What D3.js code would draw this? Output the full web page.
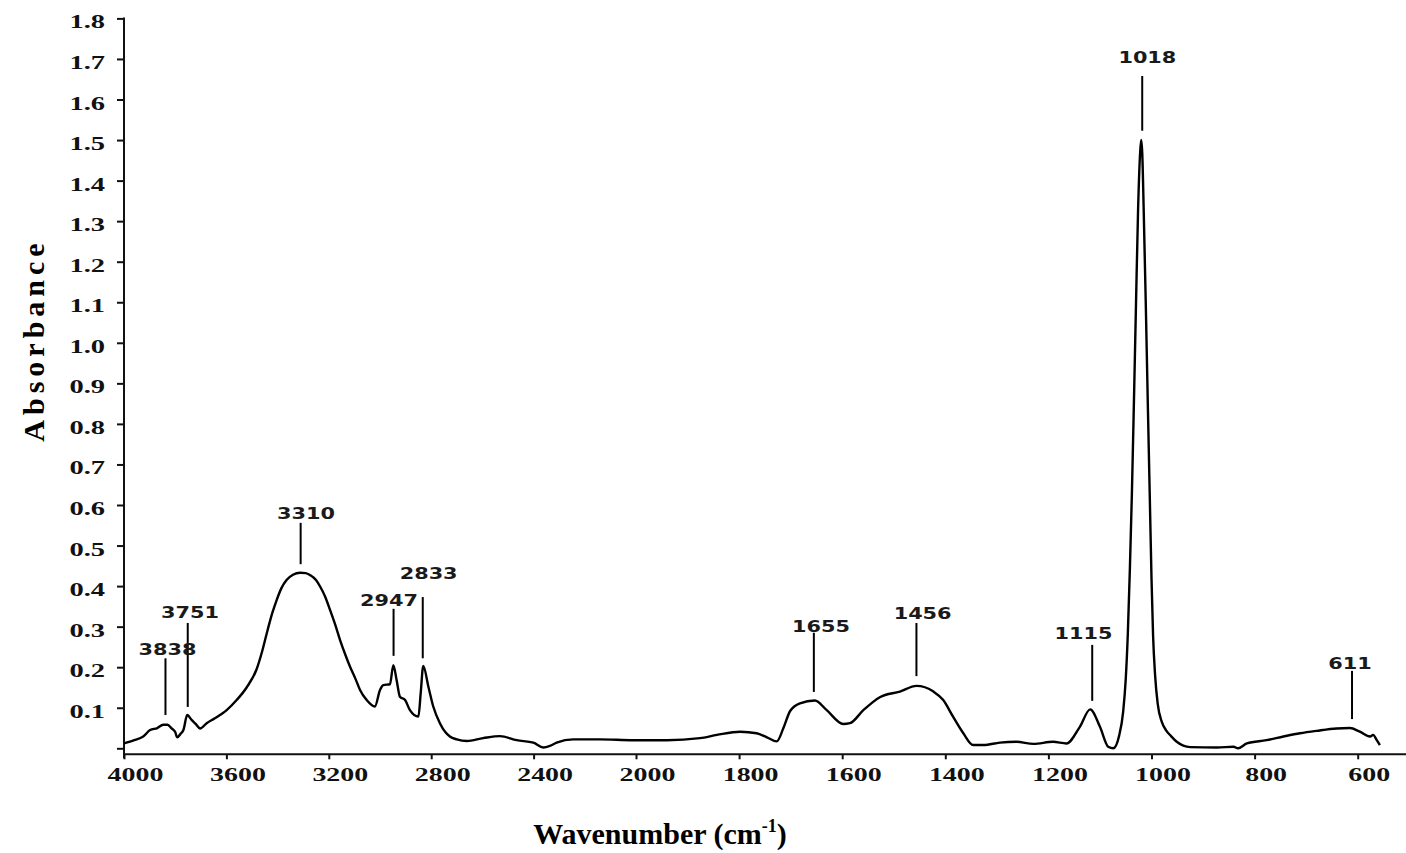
<!DOCTYPE html>
<html><head><meta charset="utf-8">
<script src="https://cdn.jsdelivr.net/npm/d3@7"></script>
<style>body{margin:0;background:#fff}svg{display:block}</style>
</head><body><svg id="c" width="1406" height="853"></svg>
<script>
// ---- data ----
const wavenumbers = [4000,3960,3925,3898,3870,3847,3830,3814,3800,3792,3780,3768,3753,3736,3720,3703,3677,3645,3599,3560,3521,3482,3460,3443,3420,3404,3385,3365,3340,3312,3290,3273,3250,3234,3215,3195,3175,3156,3135,3117,3095,3078,3052,3020,3000,2987,2961,2948,2935,2922,2902,2883,2850,2841,2831,2811,2792,2766,2745,2727,2700,2661,2597,2531,2466,2401,2362,2336,2310,2245,2141,2010,1940,1876,1843,1798,1766,1746,1727,1714,1701,1682,1653,1630,1598,1585,1559,1527,1488,1456,1423,1404,1385,1365,1346,1326,1294,1262,1229,1191,1165,1139,1119,1100,1084,1074,1063,1055,1050,1046,1042,1038,1034,1030,1026,1022,1020,1018,1015,1011,1007,1003,1000,997,993,988,980,972,962,951,925,873,841,832,815,777,744,712,680,641,615,596,576,570,563,557];
const absorbance = [0.012,0.020,0.029,0.045,0.050,0.058,0.058,0.049,0.040,0.027,0.035,0.045,0.082,0.070,0.060,0.049,0.062,0.074,0.094,0.119,0.150,0.195,0.240,0.282,0.335,0.365,0.395,0.415,0.428,0.433,0.432,0.427,0.415,0.399,0.375,0.341,0.305,0.267,0.230,0.201,0.170,0.144,0.119,0.103,0.144,0.156,0.158,0.205,0.168,0.127,0.119,0.094,0.078,0.136,0.203,0.152,0.103,0.062,0.040,0.029,0.022,0.018,0.025,0.030,0.020,0.014,0.002,0.006,0.014,0.022,0.022,0.020,0.020,0.025,0.033,0.041,0.037,0.027,0.017,0.050,0.092,0.111,0.118,0.094,0.060,0.062,0.094,0.126,0.140,0.154,0.140,0.119,0.078,0.037,0.008,0.008,0.014,0.016,0.011,0.016,0.012,0.053,0.096,0.053,0.004,0.000,0.030,0.090,0.170,0.280,0.440,0.630,0.860,1.100,1.330,1.470,1.500,1.470,1.320,1.090,0.840,0.600,0.420,0.280,0.180,0.110,0.065,0.045,0.030,0.016,0.003,0.002,0.004,0.000,0.012,0.020,0.029,0.037,0.043,0.049,0.050,0.041,0.029,0.033,0.020,0.008];

const xTickValues = [4000,3600,3200,2800,2400,2000,1800,1600,1400,1200,1000,800,600];
const yTickValues = [0,0.1,0.2,0.3,0.4,0.5,0.6,0.7,0.8,0.9,1.0,1.1,1.2,1.3,1.4,1.5,1.6,1.7,1.8];

const peakNames = ["3838","3751","3310","2947","2833","1655","1456","1115","1018","611"];
const peakWavenumbers = [3838,3751,3310,2947,2833,1655,1456,1115,1018,611];
const peakLineTop = [0.222,0.309,0.556,0.344,0.373,0.285,0.309,0.255,1.658,0.191];
const peakLineBottom = [0.082,0.102,0.454,0.228,0.222,0.139,0.178,0.117,1.523,0.072];
const peakTextWavenumber = [3830,3742,3289,2965,2810,1641,1444,1132,1008,615];
const peakTextLevel = [0.230,0.321,0.565,0.351,0.418,0.287,0.319,0.270,1.690,0.196];

// ---- chart ----
const svg = d3.select("#c");
svg.append("rect").attr("width",1406).attr("height",853).attr("fill","#fff");

const x = d3.scaleLinear().domain([4000,2000,500]).range([124,636,1409.25]);
const y = d3.scaleLinear().domain([0,1.8]).range([748.3,18.4]);
const axisGap = 6;
const serif = "'Liberation Serif','Times New Roman',serif";

function stretch(sel, f){
  sel.each(function(){
    const L = this.getComputedTextLength();
    d3.select(this).attr("textLength", L*f).attr("lengthAdjust","spacingAndGlyphs");
  });
}

// axis lines
svg.append("line").attr("x1",x(4000)).attr("x2",1406)
  .attr("y1",y(0)+axisGap).attr("y2",y(0)+axisGap)
  .attr("stroke","#111").attr("stroke-width",2);
svg.append("line").attr("x1",x(4000)).attr("x2",x(4000))
  .attr("y1",y(1.8)-1).attr("y2",y(0)+axisGap+4)
  .attr("stroke","#111").attr("stroke-width",2);

// x axis
const gx = svg.append("g").attr("transform",`translate(0,${y(0)+axisGap})`)
  .call(d3.axisBottom(x).tickValues(xTickValues).tickSize(5).tickSizeOuter(0).tickFormat(d=>String(d)));
gx.select(".domain").remove();
gx.selectAll(".tick line").attr("stroke","#111").attr("stroke-width",2);
gx.selectAll(".tick text").attr("font-family",serif).attr("font-weight","bold")
  .attr("font-size",19).attr("fill","#111").attr("x",11).attr("y",13).attr("dy","0.71em")
  .call(stretch,1.47);

// y axis
const gy = svg.append("g").attr("transform",`translate(${x(4000)},0)`)
  .call(d3.axisLeft(y).tickValues(yTickValues).tickSize(7).tickSizeOuter(0)
    .tickFormat(d=> d===0 ? "" : d3.format(".1f")(d)));
gy.select(".domain").remove();
gy.selectAll(".tick line").attr("stroke","#111").attr("stroke-width",2);
gy.selectAll(".tick text").attr("font-family",serif).attr("font-weight","bold")
  .attr("font-size",19).attr("fill","#111").attr("x",-19).attr("dy","0.5em")
  .call(stretch,1.5);

// spectrum
const pts = wavenumbers.map((w,i)=>[w,absorbance[i]]);
svg.append("path").datum(pts)
  .attr("d", d3.line().x(d=>x(d[0])).y(d=>y(d[1])).curve(d3.curveMonotoneX))
  .attr("fill","none").attr("stroke","#000").attr("stroke-width",2.4).attr("stroke-linejoin","round");

// peak annotations
const peaks = peakNames.map((n,i)=>({n, w:peakWavenumbers[i], t:peakLineTop[i], b:peakLineBottom[i], tw:peakTextWavenumber[i], tl:peakTextLevel[i]}));
svg.append("g").selectAll("line").data(peaks).join("line")
  .attr("x1",d=>x(d.w)).attr("x2",d=>x(d.w)).attr("y1",d=>y(d.t)).attr("y2",d=>y(d.b))
  .attr("stroke","#000").attr("stroke-width",2);
svg.append("g").selectAll("text").data(peaks).join("text")
  .attr("x",d=>x(d.tw)).attr("y",d=>y(d.tl)).attr("text-anchor","middle")
  .attr("font-family","'DejaVu Sans',Verdana,sans-serif").attr("font-weight","bold")
  .attr("font-size",16).attr("fill","#1a1a1a").text(d=>d.n)
  .call(stretch,1.3);

// axis titles
svg.append("text").attr("transform","translate(44,340) rotate(-90)")
  .attr("text-anchor","middle").attr("font-family",serif).attr("font-weight","bold")
  .attr("font-size",30).attr("letter-spacing",5).attr("fill","#000").text("Absorbance");

const xt = svg.append("text").attr("x",660).attr("y",844).attr("text-anchor","middle")
  .attr("font-family",serif).attr("font-weight","bold").attr("font-size",30).attr("fill","#000");
xt.append("tspan").text("Wavenumber (cm");
xt.append("tspan").attr("font-size",18).attr("dy",-12).text("-1");
xt.append("tspan").attr("dy",12).text(")");
</script>
</body></html>
